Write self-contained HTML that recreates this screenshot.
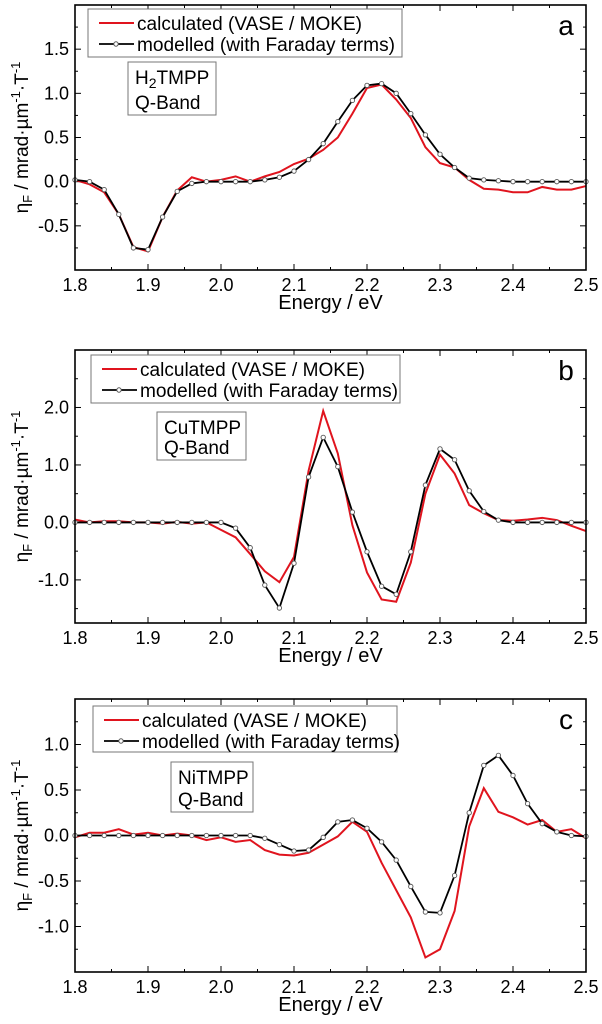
<!DOCTYPE html>
<html><head><meta charset="utf-8"><style>
body{margin:0;background:#fff}
svg{display:block;font-family:"Liberation Sans",sans-serif}
</style></head><body>
<svg id="fig" width="602" height="1024"></svg>
<script>
const energies=[];for(let i=0;i<=35;i++)energies.push(+(1.8+i*0.02).toFixed(2));
const calcA=[0.02,-0.03,-0.12,-0.37,-0.74,-0.79,-0.4,-0.1,0.05,0,0.02,0.06,0,0.06,0.11,0.2,0.26,0.36,0.5,0.77,1.06,1.1,0.93,0.72,0.39,0.21,0.16,0.02,-0.08,-0.09,-0.12,-0.12,-0.06,-0.09,-0.09,-0.05];
const modA=[0.02,0,-0.09,-0.37,-0.75,-0.77,-0.4,-0.11,-0.02,0,0,0,0,0.02,0.05,0.12,0.25,0.43,0.68,0.92,1.09,1.11,1.0,0.77,0.53,0.31,0.16,0.04,0.02,0.01,0,0,0,0,0,0];
const calcB=[0.05,0,0.02,0.02,0,0,-0.02,0.01,-0.02,0,-0.13,-0.26,-0.55,-0.85,-1.04,-0.6,0.9,1.94,1.2,-0.05,-0.87,-1.34,-1.38,-0.7,0.5,1.18,0.85,0.3,0.16,0.04,0.03,0.05,0.08,0.04,-0.06,-0.15];
const modB=[0,0,0,0,0,0,0,0,0,0,0,-0.1,-0.44,-1.09,-1.49,-0.71,0.79,1.48,0.97,0.18,-0.51,-1.11,-1.25,-0.51,0.65,1.28,1.09,0.55,0.19,0.04,0,0,0,0,0,0];
const calcC=[-0.02,0.03,0.03,0.07,0.01,0.03,0,0.02,0,-0.05,-0.02,-0.07,-0.05,-0.16,-0.21,-0.22,-0.19,-0.1,-0.01,0.15,0.04,-0.3,-0.6,-0.9,-1.34,-1.25,-0.83,0.1,0.52,0.26,0.2,0.12,0.17,0.04,0.07,-0.03];
const modC=[0,0,0,0,0,0,0,0,0,0,0,0,0,-0.03,-0.1,-0.17,-0.16,-0.02,0.15,0.17,0.08,-0.07,-0.27,-0.56,-0.84,-0.85,-0.44,0.25,0.77,0.88,0.66,0.35,0.13,0.04,0,-0.01];
const xTicks=[1.8,1.9,2.0,2.1,2.2,2.3,2.4,2.5];
const yTicksA=[-0.5,0,0.5,1.0,1.5];
const yTicksB=[-1,0,1,2];
const yTicksC=[-1,-0.5,0,0.5,1.0];
const NS="http://www.w3.org/2000/svg";const svg=document.getElementById('fig');
function el(t,a,p){const e=document.createElementNS(NS,t);for(const k in a)e.setAttribute(k,a[k]);(p||svg).appendChild(e);return e;}
const panels=[
{id:'a',top:5,bot:270,ymin:-1,ymax:2,ticks:yTicksA,minor:0.25,calc:calcA,mod:modA,leg:[88,9,314,48],box:[128,62,88,53],sample:'H<tspan font-size="14" dy="4">2</tspan><tspan dy="-4">TMPP</tspan>'},
{id:'b',top:350,bot:623,ymin:-1.75,ymax:3,ticks:yTicksB,minor:0.5,calc:calcB,mod:modB,leg:[91,355,309,48],box:[157,412,89,48],sample:'CuTMPP'},
{id:'c',top:699,bot:972,ymin:-1.5,ymax:1.5,ticks:yTicksC,minor:0.25,calc:calcC,mod:modC,leg:[93,706,304,46],box:[171,762,82,50],sample:'NiTMPP'}];
const L=75,R=586;
panels.forEach(p=>{
 const g=el('g',{});
 const xs=v=>L+(v-1.8)/0.7*(R-L), ys=v=>p.bot-(v-p.ymin)/(p.ymax-p.ymin)*(p.bot-p.top);
 const fmt=v=>v.toFixed(1);
 for(let v=1.8;v<=2.5001;v+=0.05){const x=xs(v),maj=Math.abs(v*10-Math.round(v*10))<0.01,len=maj?6:3;
  el('line',{x1:x,x2:x,y1:p.bot,y2:p.bot-len,stroke:'#000'},g);el('line',{x1:x,x2:x,y1:p.top,y2:p.top+len,stroke:'#000'},g);}
 for(let v=Math.ceil(p.ymin/p.minor)*p.minor;v<=p.ymax+1e-6;v+=p.minor){const y=ys(v),maj=p.ticks.some(t=>Math.abs(t-v)<1e-6),len=maj?6:3;
  el('line',{x1:L,x2:L+len,y1:y,y2:y,stroke:'#000'},g);el('line',{x1:R,x2:R-len,y1:y,y2:y,stroke:'#000'},g);}
 xTicks.forEach(v=>{const t=el('text',{x:xs(v),y:p.bot+21,'font-size':18,'text-anchor':'middle'},g);t.textContent=fmt(v);
  });
 p.ticks.forEach(v=>{const t=el('text',{x:L-6,y:ys(v)+6,'font-size':18,'text-anchor':'end'},g);t.textContent=fmt(v);
  });
 const xl=el('text',{x:(L+R)/2,y:p.bot+39,'font-size':20,'text-anchor':'middle'},g);xl.textContent='Energy / eV';
 
 const yc=(p.top+p.bot)/2;
 const yl=el('text',{x:0,y:0,'font-size':19,'text-anchor':'middle',transform:`translate(28,${yc}) rotate(-90)`},g);
 yl.innerHTML='η<tspan font-size="13" dy="4">F</tspan><tspan dy="-4"> / mrad·µm</tspan><tspan font-size="13" dy="-8">-1</tspan><tspan dy="8">·T</tspan><tspan font-size="13" dy="-8">-1</tspan>';
 
 const cp=el('polyline',{points:energies.map((e,i)=>xs(e)+','+ys(p.calc[i])).join(' '),fill:'none',stroke:'#e0141e','stroke-width':2},g);
 
 const mp=el('polyline',{points:energies.map((e,i)=>xs(e)+','+ys(p.mod[i])).join(' '),fill:'none',stroke:'#000','stroke-width':1.8},g);
 
 energies.forEach((e,i)=>{const c=el('circle',{cx:xs(e),cy:ys(p.mod[i]),r:2.2,fill:'#fff',stroke:'#555','stroke-width':0.9},g);
  });
 el('rect',{x:L,y:p.top,width:R-L,height:p.bot-p.top,fill:'none',stroke:'#000','stroke-width':1.6},g);
 const [lx,ly,lw,lh]=p.leg;
 const lg=el('g',{},g);
 el('rect',{x:lx,y:ly,width:lw,height:lh,fill:'#fff',stroke:'#777'},lg);
 el('line',{x1:lx+11,x2:lx+46,y1:ly+14,y2:ly+14,stroke:'#e0141e','stroke-width':2},lg);
 let t=el('text',{x:lx+49,y:ly+21,'font-size':19,textLength:225,lengthAdjust:'spacingAndGlyphs'},lg);t.textContent='calculated (VASE / MOKE)';
 el('line',{x1:lx+11,x2:lx+46,y1:ly+35,y2:ly+35,stroke:'#000','stroke-width':1.8},lg);
 el('circle',{cx:lx+28,cy:ly+35,r:2.2,fill:'#fff',stroke:'#555'},lg);
 t=el('text',{x:lx+49,y:ly+42,'font-size':19,textLength:258,lengthAdjust:'spacingAndGlyphs'},lg);t.textContent='modelled (with Faraday terms)';
 const [bx,by,bw,bh]=p.box;
 const sb=el('g',{},g);
 el('rect',{x:bx,y:by,width:bw,height:bh,fill:'#fff',stroke:'#777'},sb);
 t=el('text',{x:bx+7,y:by+22,'font-size':19},sb);t.innerHTML=p.sample;
 t=el('text',{x:bx+7,y:by+bh-6,'font-size':19},sb);t.textContent='Q-Band';
 const pl=el('text',{x:566,y:p.top+30,'font-size':28,'text-anchor':'middle'},g);pl.textContent=p.id;
 
});
</script>
</body></html>
